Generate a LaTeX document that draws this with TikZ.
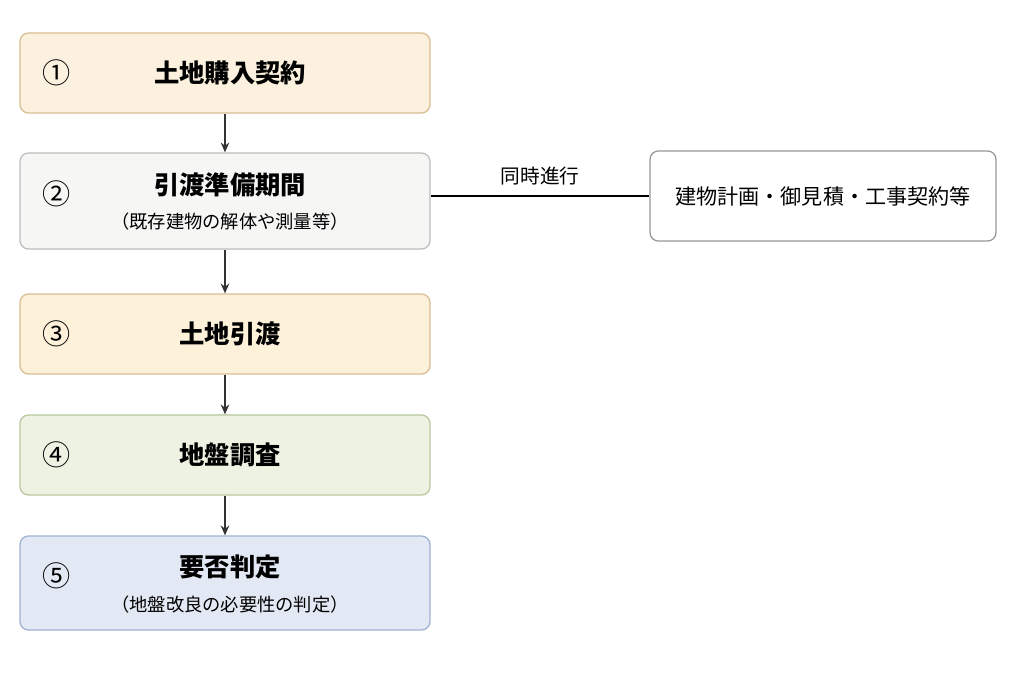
\documentclass[tikz,border=0pt]{standalone}
\usepackage{fontspec}
\setmainfont{Noto Sans CJK JP}
\usetikzlibrary{positioning,arrows.meta}
\definecolor{fillA}{HTML}{FBF1DE}\definecolor{lineA}{HTML}{D8BE92}
\definecolor{fillB}{HTML}{F6F6F5}\definecolor{lineB}{HTML}{BDBDBD}
\definecolor{fillC}{HTML}{FDF1DA}
\definecolor{fillD}{HTML}{EEF2E3}\definecolor{lineD}{HTML}{B9C79E}
\definecolor{fillE}{HTML}{E3E9F4}\definecolor{lineE}{HTML}{9EB1D3}
\tikzset{
  stepbox/.style={draw, rounded corners=6pt, line width=0.9pt, minimum width=410*0.025cm, inner sep=0pt},
  num/.style={font=\fontsize{20}{20}\selectfont},
  ttl/.style={font=\bfseries\fontsize{18}{20}\selectfont},
  sub/.style={font=\fontsize{13}{15}\selectfont},
  arr/.style={-{Stealth[length=7pt,width=6pt]}, line width=1.1pt, black!80},
}
\begin{document}
\begin{tikzpicture}[x=0.025cm,y=-0.025cm]
  \useasboundingbox (0,0) rectangle (1024,683);
  % steps
  \node[stepbox, fill=fillA, draw=lineA, minimum height=80*0.025cm] (s1) at (225,73) {};
  \node[stepbox, fill=fillB, draw=lineB, minimum height=96*0.025cm] (s2) at (225,201) {};
  \node[stepbox, fill=fillC, draw=lineA, minimum height=80*0.025cm] (s3) at (225,334) {};
  \node[stepbox, fill=fillD, draw=lineD, minimum height=80*0.025cm] (s4) at (225,455) {};
  \node[stepbox, fill=fillE, draw=lineE, minimum height=94*0.025cm] (s5) at (225,583) {};
  \node[draw=lineB!80!black, rounded corners=6pt, line width=0.9pt, fill=white,
        minimum width=346*0.025cm, minimum height=90*0.025cm] (plan) at (823,196)
        {\fontsize{15}{17}\selectfont 建物計画・御見積・工事契約等};
  % labels
  \node[num] (n1) at (57,73) {①};  \node[ttl] (t1) at (230,73) {土地購入契約};
  \node[num] (n2) at (57,194) {②}; \node[ttl] (t2) at (230,185) {引渡準備期間};
  \node[sub] (u2) at (230,222) {（既存建物の解体や測量等）};
  \node[num] (n3) at (57,334) {③}; \node[ttl] (t3) at (230,334) {土地引渡};
  \node[num] (n4) at (57,455) {④}; \node[ttl] (t4) at (230,455) {地盤調査};
  \node[num] (n5) at (57,576) {⑤}; \node[ttl] (t5) at (230,567) {要否判定};
  \node[sub] (u5) at (230,605) {（地盤改良の必要性の判定）};
  % connectors
  \foreach \a/\b in {s1/s2,s2/s3,s3/s4,s4/s5}
    \draw[arr] (\a.south) -- (\b.north);
  \draw[line width=1.3pt] (s2.east |- plan.west) -- node[above=4pt, font=\fontsize{14}{16}\selectfont] {同時進行} (plan.west);
\end{tikzpicture}
\end{document}
